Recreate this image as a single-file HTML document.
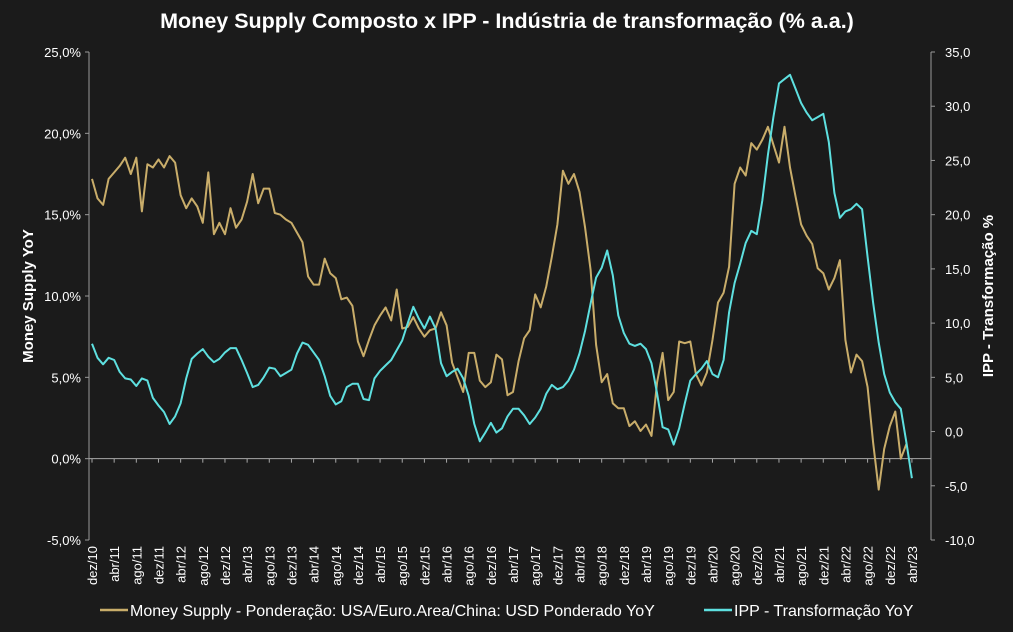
<!DOCTYPE html>
<html><head><meta charset="utf-8"><style>
body{margin:0;background:#1b1b1b;}
svg{display:block;font-family:"Liberation Sans",sans-serif;}
</style></head><body>
<svg id="chart" width="1013" height="632" viewBox="0 0 1013 632">
<rect width="1013" height="632" fill="#1b1b1b"/>
<text x="507" y="28" text-anchor="middle" fill="#fff" font-size="21.5" font-weight="bold">Money Supply Composto x IPP - Indústria de transformação (% a.a.)</text>
<g id="axes"></g>
<g id="series"></g>
<text transform="translate(33,296) rotate(-90)" text-anchor="middle" fill="#fff" font-size="15" font-weight="bold">Money Supply YoY</text>
<text transform="translate(993,296) rotate(-90)" text-anchor="middle" fill="#fff" font-size="15" font-weight="bold">IPP - Transformação %</text>
<g>
<line x1="100" y1="610" x2="128" y2="610" stroke="#c9ad6a" stroke-width="2.5"/>
<text x="130" y="616" fill="#fff" font-size="16">Money Supply - Ponderação: USA/Euro.Area/China: USD Ponderado YoY</text>
<line x1="704" y1="610" x2="732" y2="610" stroke="#5ee0e0" stroke-width="2.5"/>
<text x="734" y="616" fill="#fff" font-size="16">IPP - Transformação YoY</text>
</g>
</svg>
<script>
const leftTicks=[25,20,15,10,5,0,-5];
const rightTicks=[35,30,25,20,15,10,5,0,-5,-10];
const xLabels=["dez/10","abr/11","ago/11","dez/11","abr/12","ago/12","dez/12","abr/13","ago/13","dez/13","abr/14","ago/14","dez/14","abr/15","ago/15","dez/15","abr/16","ago/16","dez/16","abr/17","ago/17","dez/17","abr/18","ago/18","dez/18","abr/19","ago/19","dez/19","abr/20","ago/20","dez/20","abr/21","ago/21","dez/21","abr/22","ago/22","dez/22","abr/23"];
const moneySupply=[17.2,16.0,15.6,17.2,17.6,18.0,18.5,17.5,18.5,15.2,18.1,17.9,18.4,17.9,18.6,18.2,16.2,15.4,16.0,15.5,14.5,17.6,13.8,14.5,13.8,15.4,14.2,14.7,15.8,17.5,15.7,16.6,16.6,15.1,15.0,14.7,14.5,13.9,13.3,11.2,10.7,10.7,12.3,11.4,11.1,9.8,9.9,9.4,7.2,6.3,7.3,8.2,8.8,9.3,8.5,10.4,8.0,8.1,8.7,8.0,7.5,7.9,8.0,9.0,8.2,5.9,5.0,4.1,6.5,6.5,4.8,4.4,4.7,6.4,6.1,3.9,4.1,6.0,7.4,7.9,10.1,9.3,10.6,12.4,14.4,17.7,16.9,17.5,16.4,14.2,11.6,7.0,4.7,5.2,3.4,3.1,3.1,2.0,2.3,1.7,2.1,1.4,4.7,6.5,3.6,4.1,7.2,7.1,7.2,5.2,4.5,5.3,7.3,9.6,10.2,11.8,16.9,17.9,17.4,19.4,19.0,19.6,20.4,19.3,18.2,20.4,17.9,16.1,14.4,13.7,13.2,11.7,11.4,10.4,11.1,12.2,7.3,5.3,6.4,6.0,4.4,1.0,-1.9,0.6,2.0,2.9,0.0,0.9];
const ipp=[8.1,6.8,6.2,6.8,6.6,5.5,4.9,4.8,4.2,4.9,4.7,3.1,2.4,1.8,0.7,1.4,2.6,4.9,6.7,7.2,7.6,6.9,6.4,6.7,7.3,7.7,7.7,6.6,5.4,4.1,4.3,5.0,5.9,5.8,5.1,5.4,5.7,7.2,8.2,8.0,7.3,6.6,5.1,3.3,2.5,2.8,4.1,4.4,4.4,3.0,2.9,4.9,5.6,6.1,6.6,7.5,8.4,10.0,11.5,10.4,9.5,10.6,9.5,6.3,5.1,5.5,5.8,4.9,3.3,0.7,-0.9,-0.1,0.8,-0.1,0.3,1.4,2.1,2.1,1.5,0.7,1.3,2.1,3.5,4.3,3.9,4.1,4.7,5.7,7.2,9.3,11.8,14.2,15.1,16.7,14.4,10.7,9.1,8.1,7.9,8.1,7.6,6.3,3.5,0.4,0.2,-1.2,0.3,2.6,4.7,5.3,5.8,6.5,5.3,5.0,6.6,11.0,13.7,15.5,17.4,18.5,18.2,21.3,25.5,29.0,32.1,32.5,32.9,31.6,30.3,29.4,28.7,29.0,29.3,26.7,22.0,19.7,20.3,20.5,21.0,20.5,16.1,11.9,8.2,5.3,3.6,2.7,2.1,-1.0,-4.3];

const NS="http://www.w3.org/2000/svg";
const X0=92, DX=5.54, LX=89, RX=931, TOP=52, BOT=540;
const xS=i=>X0+DX*i;
const yL=v=>TOP+(25-v)/30*(BOT-TOP);
const yR=v=>TOP+(35-v)/45*(BOT-TOP);
function mk(tag,attrs,parent){const e=document.createElementNS(NS,tag);for(const k in attrs)e.setAttribute(k,attrs[k]);parent.appendChild(e);return e;}
const axes=document.getElementById('axes'), series=document.getElementById('series');
const fmt=v=>v.toFixed(1).replace('.',',');
let a=mk('line',{x1:LX,y1:TOP,x2:LX,y2:BOT,stroke:'#9a9a9a','stroke-width':1},axes);


a=mk('line',{x1:RX,y1:TOP,x2:RX,y2:BOT,stroke:'#9a9a9a','stroke-width':1},axes);


a=mk('line',{x1:LX,y1:yL(0),x2:RX,y2:yL(0),stroke:'#a8a8a8','stroke-width':1},axes);


leftTicks.forEach(v=>{
  const y=yL(v);
  const t=mk('line',{x1:LX-4,y1:y,x2:LX,y2:y,stroke:'#9a9a9a'},axes);
  
  
  const l=mk('text',{x:LX-8,y:y+5,'text-anchor':'end',fill:'#fff','font-size':13},axes);
  l.textContent=fmt(v)+'%';
  
  
});
rightTicks.forEach(v=>{
  const y=yR(v);
  const t=mk('line',{x1:RX,y1:y,x2:RX+4,y2:y,stroke:'#9a9a9a'},axes);
  
  
  const l=mk('text',{x:RX+14,y:y+5,'text-anchor':'start',fill:'#fff','font-size':13},axes);
  l.textContent=fmt(v);
  
  
});
xLabels.forEach((s,k)=>{
  const x=xS(k*4);
  const t=mk('line',{x1:x,y1:yL(0),x2:x,y2:yL(0)+4,stroke:'#a8a8a8'},axes);
  
  
  const l=mk('text',{transform:`translate(${x+5},546) rotate(-90)`,'text-anchor':'end',fill:'#fff','font-size':13},axes);
  l.textContent=s;
  
  
});
let p=mk('polyline',{points:moneySupply.map((v,i)=>xS(i).toFixed(1)+','+yL(v).toFixed(1)).join(' '),fill:'none',stroke:'#c9ad6a','stroke-width':2,'stroke-linejoin':'round'},series);


p=mk('polyline',{points:ipp.map((v,i)=>xS(i).toFixed(1)+','+yR(v).toFixed(1)).join(' '),fill:'none',stroke:'#5ee0e0','stroke-width':2,'stroke-linejoin':'round'},series);


</script>
</body></html>
